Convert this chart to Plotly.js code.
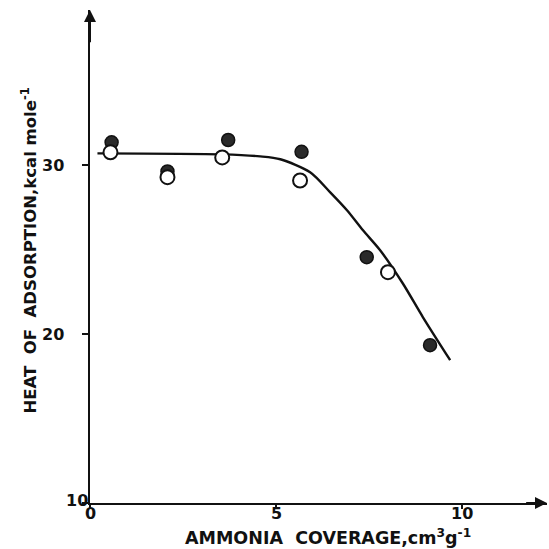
<!DOCTYPE html>
<html><head><meta charset="utf-8">
<script src="https://cdn.plot.ly/plotly-3.0.1.min.js"></script>
<style>body{margin:0;background:#fff}#c{width:549px;height:549px}</style>
</head><body><div id="c"></div>
<script>
// Filled (hatched) points
const filledX = [0.58, 2.08, 3.71, 5.68, 7.43, 9.13];
const filledY = [31.36, 29.64, 31.5, 30.8, 24.56, 19.35];
// Open points
const openX = [0.55, 2.08, 3.55, 5.64, 8.0];
const openY = [30.77, 29.3, 30.47, 29.1, 23.67];
// Fitted curve
const curveX = [0.2, 3.55, 4.57, 5.11, 5.91, 6.45, 6.9, 7.33, 7.79, 8.40, 8.94, 9.67];
const curveY = [30.71, 30.65, 30.53, 30.36, 29.59, 28.4, 27.34, 26.15, 24.97, 23.0, 21.0, 18.46];
// Ticks
const xTickVals = [0, 5, 10];
const xTickText = ['0', '5', '10'];
const yTickVals = [10, 20, 30];
const yTickText = ['10', '20', '30'];

const XMAX = 12.27, YMAX = 39.2;
const font = {family: 'DejaVu Sans, Liberation Sans, Arial, sans-serif', color: '#111'};
const f = s => Object.assign({size: s}, font);

const traces = [
  {x: curveX, y: curveY, mode: 'lines', line: {color: '#111', width: 2.4, shape: 'spline', smoothing: 0.8}, hoverinfo: 'skip'},
  {x: filledX, y: filledY, mode: 'markers', marker: {size: 13, color: '#2a2a2a', line: {color: '#111', width: 1.5}}},
  {x: openX, y: openY, mode: 'markers', marker: {size: 14, color: '#fff', line: {color: '#111', width: 2}}}
];

const ann = [];
xTickVals.forEach((v, i) => ann.push({x: v, y: 10, xref: 'x', yref: 'y', text: '<b>' + xTickText[i] + '</b>', showarrow: false,
  yanchor: 'top', yshift: 1, font: f(16)}));
yTickVals.forEach((v, i) => {
  if (v === 10) ann.push({x: 0, y: v, xref: 'x', yref: 'y', text: '<b>' + yTickText[i] + '</b>', showarrow: false,
    xanchor: 'right', xshift: 0, yshift: 3, font: f(16)});
  else ann.push({x: 0, y: v, xref: 'x', yref: 'y', text: '<b>' + yTickText[i] + '</b>', showarrow: false,
    xanchor: 'right', xshift: -24, font: f(16)});
});
// axis arrows
ann.push({x: XMAX, y: 10, ax: XMAX - 0.6, ay: 10, axref: 'x', ayref: 'y', xref: 'x', yref: 'y', text: '',
  showarrow: true, arrowhead: 2, arrowsize: 1.2, arrowwidth: 2, arrowcolor: '#111'});
ann.push({x: 0, y: YMAX, ax: 0, ay: YMAX - 2, axref: 'x', ayref: 'y', xref: 'x', yref: 'y', text: '',
  showarrow: true, arrowhead: 2, arrowsize: 1.2, arrowwidth: 2, arrowcolor: '#111'});
// axis titles
ann.push({xref: 'paper', yref: 'paper', x: 0.52, xanchor: 'center', y: 0, yshift: -34, yanchor: 'middle', showarrow: false,
  text: '<b>AMMONIA  COVERAGE,cm<sup>3</sup>g<sup>-1</sup></b>', font: f(17.5)});
ann.push({xref: 'paper', yref: 'paper', x: 0, xanchor: 'center', xshift: -61, y: 0.5, yshift: 6, yanchor: 'middle', textangle: -90, showarrow: false,
  text: '<b>HEAT  OF  ADSORPTION,kcal mole<sup>-1</sup></b>', font: f(16.5)});

const layout = {
  width: 549, height: 549,
  margin: {l: 90, r: 2, t: 10, b: 46},
  paper_bgcolor: '#fff', plot_bgcolor: '#fff',
  showlegend: false,
  xaxis: {range: [0, XMAX], showgrid: false, zeroline: false, showline: true, linecolor: '#111', linewidth: 2,
    tickvals: xTickVals, ticktext: ['', '', ''], ticks: 'outside', ticklen: 4, tickwidth: 2, tickcolor: '#111'},
  yaxis: {range: [10, YMAX], showgrid: false, zeroline: false, showline: true, linecolor: '#111', linewidth: 2,
    tickvals: yTickVals, ticktext: ['', '', ''], ticks: 'outside', ticklen: 6, tickwidth: 2, tickcolor: '#111'},
  annotations: ann
};
Plotly.newPlot('c', traces, layout, {staticPlot: true});
</script></body></html>
